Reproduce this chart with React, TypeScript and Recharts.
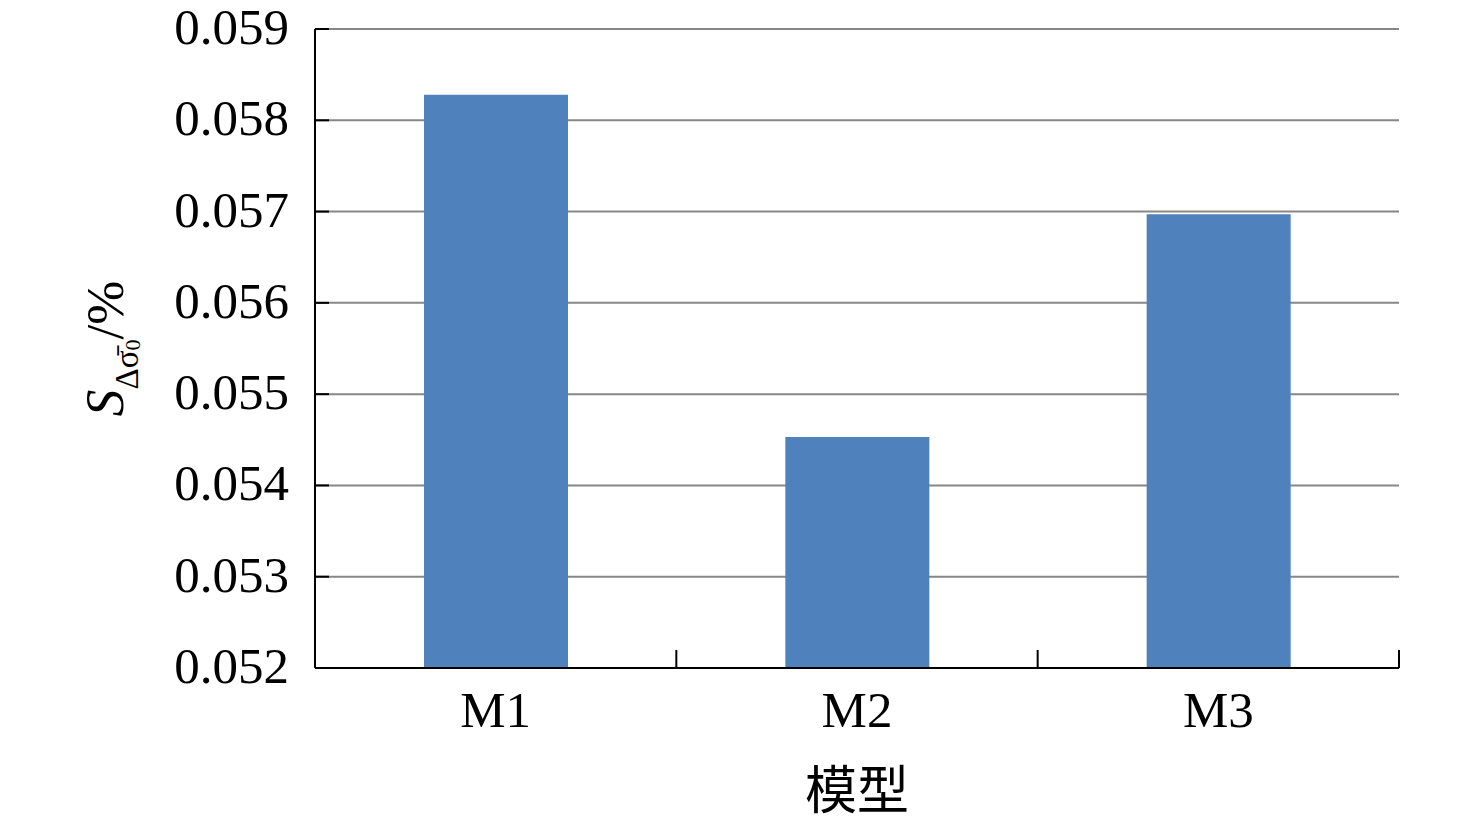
import React from 'react';
import { BarChart, Bar, XAxis, YAxis, CartesianGrid } from 'recharts';

const models = ['M1', 'M2', 'M3'];
const values = [0.05828, 0.05453, 0.05697];
const yTicks = [0.052, 0.053, 0.054, 0.055, 0.056, 0.057, 0.058, 0.059];

const data = models.map((m, i) => ({ model: m, value: values[i] }));

const SERIF = '"Liberation Serif", "Times New Roman", serif';
const CJK = '"Noto Sans CJK SC", sans-serif';
const X_TICK_GAP = 28;

const YTick = (props: any) => {
  const { x, y, payload } = props;
  return (
    <text x={x} y={y + 15} textAnchor="end" fontFamily={SERIF} fontSize={51} fill="#000">
      {Number(payload.value).toFixed(3)}
    </text>
  );
};

// category label plus the inward tick mark at the right edge of each band
const XTick = (props: any) => {
  const { x, y, payload, width, visibleTicksCount } = props;
  const axisY = y - X_TICK_GAP;
  const half = width && visibleTicksCount ? width / visibleTicksCount / 2 : 0;
  return (
    <g>
      <line x1={x + half} x2={x + half} y1={axisY - 18} y2={axisY} stroke="#000" strokeWidth={2} />
      <text x={x} y={axisY + 59} textAnchor="middle" fontFamily={SERIF} fontSize={51} fill="#000">
        {payload.value}
      </text>
    </g>
  );
};

const YLabel = (props: any) => {
  const { viewBox } = props;
  const cx = viewBox.x + 123;
  const cy = viewBox.y + viewBox.height / 2;
  return (
    <text
      x={cx}
      y={cy}
      textAnchor="middle"
      transform={`rotate(-90, ${cx}, ${cy})`}
      fontFamily={SERIF}
      fill="#000"
    >
      <tspan fontSize={54} fontStyle="italic">S</tspan>
      <tspan fontSize={33} dy={15}>Δσ̄</tspan>
      <tspan fontSize={22} dy={2}>0</tspan>
      <tspan fontSize={53} dy={-17}>/%</tspan>
    </text>
  );
};

const XLabel = (props: any) => {
  const { viewBox } = props;
  return (
    <text
      x={viewBox.x + viewBox.width / 2}
      y={viewBox.y + 141}
      textAnchor="middle"
      fontFamily={CJK}
      fontSize={52}
      fill="#000"
    >
      模型
    </text>
  );
};

const blank = () => '';

export default function App() {
  return (
    <div style={{ position: 'absolute', left: 0, top: 0, background: '#fff' }}>
      <BarChart
        width={1476}
        height={827}
        data={data}
        margin={{ top: 29, right: 77, bottom: 0, left: 0 }}
      >
        <CartesianGrid
          xAxisId="cat"
          yAxisId="main"
          vertical={false}
          stroke="#878787"
          strokeWidth={2}
        />
        <XAxis
          xAxisId="cat"
          dataKey="model"
          height={159}
          axisLine={{ stroke: '#000', strokeWidth: 2 }}
          tickLine={false}
          tickSize={0}
          tickMargin={X_TICK_GAP}
          tick={<XTick />}
          label={<XLabel />}
        />
        <YAxis
          yAxisId="inner"
          domain={[0.052, 0.059]}
          ticks={yTicks}
          allowDataOverflow
          width={1}
          mirror
          tickFormatter={blank}
          tickSize={14}
          axisLine={false}
          tickLine={{ stroke: '#000', strokeWidth: 2 }}
        />
        <YAxis
          yAxisId="main"
          domain={[0.052, 0.059]}
          ticks={yTicks}
          allowDataOverflow
          width={315}
          axisLine={{ stroke: '#000', strokeWidth: 2 }}
          tickLine={false}
          tickSize={0}
          tickMargin={26}
          tick={<YTick />}
          label={<YLabel />}
        />
        <Bar
          xAxisId="cat"
          yAxisId="main"
          dataKey="value"
          fill="#4F81BD"
          barSize={144}
          isAnimationActive={false}
        />
      </BarChart>
    </div>
  );
}
